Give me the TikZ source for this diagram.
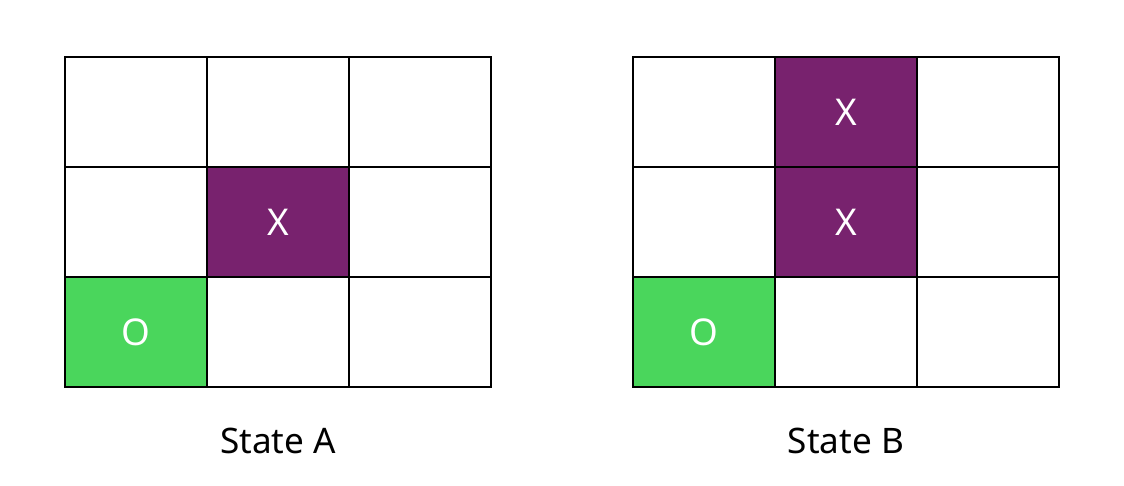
\documentclass[tikz,border=0pt]{standalone}
\usepackage{fontspec}
\setmainfont{Noto Sans}
\usepackage{tikz}
\usetikzlibrary{positioning}
\definecolor{xpurple}{HTML}{78226E}
\definecolor{ogreen}{HTML}{4AD65C}

\begin{document}
\begin{tikzpicture}[
x=0.02cm, y=-0.02cm,
cell/.style={draw=black, line width=1.5pt, minimum width=2.84cm, minimum height=2.2cm, inner sep=0pt, font=\fontsize{21}{24}\selectfont, text=white},
xcell/.style={cell, fill=xpurple},
ocell/.style={cell, fill=ogreen},
caption/.style={font=\fontsize{20}{24}\selectfont}
]
\useasboundingbox (0,0) rectangle (1124,486);
% state A
\foreach \r in {0,1,2}
  \foreach \c in {0,1,2}
    \node[cell] (a-\r-\c) at ({136+142*\c},{112+110*\r}) {};
\node[xcell] (ax) at (a-1-1) {X};
\node[ocell] (ao) at (a-2-0) {O};
% state B
\foreach \r in {0,1,2}
  \foreach \c in {0,1,2}
    \node[cell] (b-\r-\c) at ({704+142*\c},{112+110*\r}) {};
\node[xcell] (bx1) at (b-0-1) {X};
\node[xcell] (bx2) at (b-1-1) {X};
\node[ocell] (bo) at (b-2-0) {O};
% labels
\node[caption] (lbla) at (278,441) {State A};
\node[caption] (lblb) at (846,441) {State B};
\end{tikzpicture}
\end{document}
